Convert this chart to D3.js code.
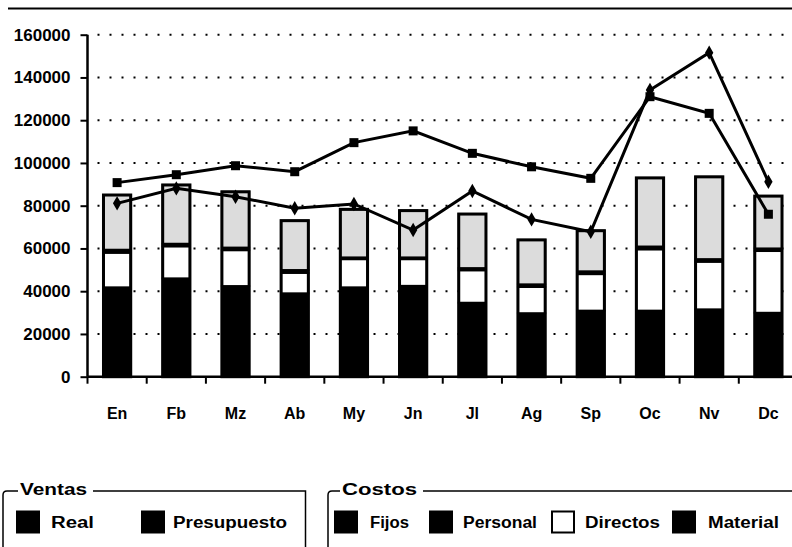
<!DOCTYPE html>
<html>
<head>
<meta charset="utf-8">
<script src="https://cdn.jsdelivr.net/npm/d3@7"></script>
<style>
  body { margin: 0; background: #fff; }
  svg { display: block; font-family: "Liberation Sans", Arial, sans-serif; font-weight: bold; }
</style>
</head>
<body>
<div id="chart"></div>
<script>
// ventas vs costos por mes

const meses = ["En", "Fb", "Mz", "Ab", "My", "Jn", "Jl", "Ag", "Sp", "Oc", "Nv", "Dc"];

// costos (apilados, de abajo hacia arriba)
const fijos     = [41800, 46000, 42400, 39000, 41800, 42500, 34600, 29700, 30900, 30900, 31500, 29900];
const directos  = [16200, 15000, 16800, 9600, 13200, 12500, 15200, 12300, 17100, 28700, 22300, 28900];
const personal  = [1400, 1200, 1200, 1300, 800, 800, 1000, 1200, 1300, 1300, 1200, 1200];
const material  = [25600, 27500, 26100, 23100, 22500, 21900, 25300, 20800, 19000, 32100, 38500, 24500];

// ventas
const presupuesto = [90800, 94500, 98700, 95900, 109500, 115000, 104500, 98200, 92800, 131000, 123200, 76000];
const real        = [81100, 88100, 84200, 78800, 80800, 68600, 86900, 73600, 67800, 134100, 151600, 91200];

const yTicks = [0, 20000, 40000, 60000, 80000, 100000, 120000, 140000, 160000];

const svgWidth = 792;
const svgHeight = 547;

const margin = { top: 34.7, right: -6, bottom: 170.3, left: 87.5 };
const width = svgWidth - margin.left - margin.right;
const height = svgHeight - margin.top - margin.bottom;

const svg = d3.select("#chart")
    .append("svg")
    .attr("width", svgWidth)
    .attr("height", svgHeight);

// top frame line
svg.append("line")
    .attr("x1", 8).attr("x2", svgWidth)
    .attr("y1", 8.5).attr("y2", 8.5)
    .attr("stroke", "#000")
    .attr("stroke-width", 2);

const chartGroup = svg.append("g")
    .attr("transform", `translate(${margin.left}, ${margin.top})`);

const x = d3.scaleBand()
    .domain(meses)
    .range([0, width])
    .paddingInner(0.54)
    .paddingOuter(0.27);

const xBound = d3.scaleLinear()
    .domain([0, meses.length])
    .range([0, width]);

const y = d3.scaleLinear()
    .domain([0, 160000])
    .range([height, 0]);

// dotted grid
chartGroup.selectAll(".grid")
    .data(yTicks.slice(1))
    .enter()
    .append("line")
    .attr("x1", 10)
    .attr("x2", width)
    .attr("y1", d => y(d))
    .attr("y2", d => y(d))
    .attr("stroke", "#000")
    .attr("stroke-width", 2)
    .attr("stroke-dasharray", "2,10");

// stacked bars
const stackData = meses.map((m, i) => ({
    mes: m,
    fijos: fijos[i],
    directos: directos[i],
    personal: personal[i],
    material: material[i]
}));
const keys = ["fijos", "directos", "personal", "material"];
const fills = { fijos: "#000", directos: "#fff", personal: "#000", material: "#dcdcdc" };

const stacked = d3.stack().keys(keys)(stackData);

chartGroup.selectAll(".serie")
    .data(stacked)
    .enter()
    .append("g")
    .attr("fill", d => fills[d.key])
    .selectAll("rect")
    .data(d => d)
    .enter()
    .append("rect")
    .attr("x", d => x(d.data.mes))
    .attr("width", x.bandwidth())
    .attr("y", d => y(d[1]))
    .attr("height", d => y(d[0]) - y(d[1]))
    .attr("stroke", "#000")
    .attr("stroke-width", 2);

// bar outline
chartGroup.selectAll(".outline")
    .data(stacked[stacked.length - 1])
    .enter()
    .append("rect")
    .attr("x", d => x(d.data.mes))
    .attr("width", x.bandwidth())
    .attr("y", d => y(d[1]))
    .attr("height", d => y(0) - y(d[1]))
    .attr("fill", "none")
    .attr("stroke", "#000")
    .attr("stroke-width", 3);

// lines
const cx = d => x(d) + x.bandwidth() / 2;
const line = d3.line()
    .x((d, i) => cx(meses[i]))
    .y(d => y(d));

chartGroup.append("path")
    .datum(presupuesto)
    .attr("d", line)
    .attr("fill", "none")
    .attr("stroke", "#000")
    .attr("stroke-width", 3);

chartGroup.append("path")
    .datum(real)
    .attr("d", line)
    .attr("fill", "none")
    .attr("stroke", "#000")
    .attr("stroke-width", 3);

chartGroup.selectAll(".mPres")
    .data(presupuesto)
    .enter()
    .append("rect")
    .attr("x", (d, i) => cx(meses[i]) - 4.5)
    .attr("y", d => y(d) - 4.5)
    .attr("width", 9)
    .attr("height", 9)
    .attr("fill", "#000");

chartGroup.selectAll(".mReal")
    .data(real)
    .enter()
    .append("path")
    .attr("d", d3.symbol().type(d3.symbolDiamond).size(60))
    .attr("transform", (d, i) => `translate(${cx(meses[i])}, ${y(d)})`)
    .attr("fill", "#000");

// axes
const leftAxis = d3.axisLeft(y)
    .tickValues(yTicks)
    .tickSize(7)
    .tickPadding(10)
    .tickFormat(d3.format("d"));

const yAxis = chartGroup.append("g")
    .call(leftAxis);
yAxis.select(".domain").attr("stroke-width", 2.5).attr("d", `M0,0V${height}`);
yAxis.selectAll(".tick line").attr("stroke-width", 2);
yAxis.selectAll("text")
    .attr("font-size", 17)
    .attr("font-weight", "bold")
    .attr("font-family", "Liberation Sans, Arial, sans-serif")
    .attr("fill", "#000");

const xAxis = chartGroup.append("g")
    .attr("transform", `translate(0, ${height})`);
xAxis.append("line")
    .attr("x1", 0).attr("x2", width)
    .attr("stroke", "#000")
    .attr("stroke-width", 2.5);
xAxis.selectAll(".xt")
    .data(d3.range(meses.length + 1))
    .enter()
    .append("line")
    .attr("x1", d => xBound(d))
    .attr("x2", d => xBound(d))
    .attr("y1", 0)
    .attr("y2", 7)
    .attr("stroke", "#000")
    .attr("stroke-width", 2);
xAxis.selectAll(".xl")
    .data(meses)
    .enter()
    .append("text")
    .attr("x", d => cx(d))
    .attr("y", 42)
    .attr("text-anchor", "middle")
    .attr("font-size", 16)
    .text(d => d);

// legends
const boxTop = 491;

function legendBox(x0, x1, title, titleX, titleEnd) {
    const g = svg.append("g");
    g.append("path")
        .attr("d", `M${x0},560V${boxTop + 4}Q${x0},${boxTop} ${x0 + 4},${boxTop}H${titleX - 2}`)
        .attr("fill", "none")
        .attr("stroke", "#000")
        .attr("stroke-width", 1.5);
    g.append("path")
        .attr("d", `M${titleEnd + 6},${boxTop}H${x1}V560`)
        .attr("fill", "none")
        .attr("stroke", "#000")
        .attr("stroke-width", 1.5);
    g.append("text")
        .attr("x", titleX)
        .attr("y", 495)
        .attr("font-size", 16)
        .attr("textLength", titleEnd - titleX)
        .attr("lengthAdjust", "spacingAndGlyphs")
        .text(title);
    return g;
}

const ventasNames = ["Real", "Presupuesto"];
const ventasFill = ["#000", "#000"];
const ventasX = [17, 142];
const ventasTextX = [51, 173];
const ventasTextEnd = [94, 287];
const costosNames = ["Fijos", "Personal", "Directos", "Material"];
const costosFill = ["#000", "#000", "#fff", "#000"];
const costosX = [335, 430, 552, 673];
const costosTextX = [370, 463, 585, 708];
const costosTextEnd = [409, 537, 660, 779];

function legendItem(g, x0, fill, tx, tEnd, name) {
    g.append("rect")
        .attr("x", x0).attr("y", 511.5)
        .attr("width", 22).attr("height", 21)
        .attr("fill", fill).attr("stroke", "#000").attr("stroke-width", 2);
    g.append("text")
        .attr("x", tx).attr("y", 528)
        .attr("font-size", 16)
        .attr("textLength", tEnd - tx)
        .attr("lengthAdjust", "spacingAndGlyphs")
        .text(name);
}

const gV = legendBox(3, 305.5, "Ventas", 20, 87);
ventasNames.forEach((n, i) => legendItem(gV, ventasX[i], ventasFill[i], ventasTextX[i], ventasTextEnd[i], n));

const gC = legendBox(328, 800, "Costos", 342, 417);
costosNames.forEach((n, i) => legendItem(gC, costosX[i], costosFill[i], costosTextX[i], costosTextEnd[i], n));
</script>
</body>
</html>
